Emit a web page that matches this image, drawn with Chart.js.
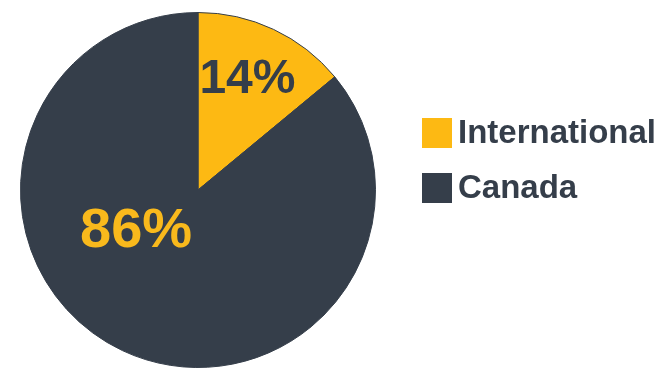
<!DOCTYPE html>
<html>
<head>
<meta charset="utf-8">
<script src="https://cdn.jsdelivr.net/npm/chart.js@4/dist/chart.umd.min.js"></script>
<style>
  html, body { margin: 0; padding: 0; background: #fff; }
  canvas { display: block; }
</style>
</head>
<body>
<canvas id="myChart" width="663" height="368"></canvas>
<script>
const labels = ['International', 'Canada'];
const shares = [14, 86];
const sliceColors = ['#FDB913', '#353E4A'];
const valueColors = ['#353E4A', '#F9B91C'];

// where each % label sits inside its slice: fraction of the sweep, fraction of radius, font size
const labelSpots = [
    { along: 0.48, out: 0.68, size: 48 },
    { along: 0.60, out: 0.42, size: 56 }
];

const font = '"Liberation Sans", Arial, sans-serif';

const pctLabels = {
    id: 'pctLabels',
    afterDatasetsDraw(chart) {
        const c = chart.ctx;
        const meta = chart.getDatasetMeta(0);
        meta.data.forEach((arc, i) => {
            const p = arc.getProps(['x', 'y', 'startAngle', 'endAngle', 'outerRadius'], true);
            const spot = labelSpots[i];
            const a = p.startAngle + (p.endAngle - p.startAngle) * spot.along;
            const r = p.outerRadius * spot.out;
            c.save();
            c.font = 'bold ' + spot.size + 'px ' + font;
            c.fillStyle = valueColors[i];
            c.textAlign = 'center';
            c.textBaseline = 'middle';
            c.fillText(shares[i] + '%', p.x + Math.cos(a) * r, p.y + Math.sin(a) * r);
            c.restore();
        });
    }
};

// legend drawn to the right of the pie
const sideLegend = {
    id: 'sideLegend',
    afterDraw(chart) {
        const c = chart.ctx;
        const left = chart.chartArea.right + 44;
        const top = 118;
        const box = 30;
        const gap = 55;
        chart.data.labels.forEach((lab, i) => {
            const y = top + i * gap;
            c.save();
            c.fillStyle = chart.data.datasets[0].backgroundColor[i];
            c.fillRect(left, y, box, box);
            c.font = 'bold 33px ' + font;
            c.fillStyle = '#353E4A';
            c.textAlign = 'left';
            c.textBaseline = 'alphabetic';
            c.fillText(lab, left + box + 6, y + 25);
            c.restore();
        });
    }
};

new Chart(document.getElementById('myChart').getContext('2d'), {
    type: 'pie',
    data: {
        labels: labels,
        datasets: [{
            data: shares,
            backgroundColor: sliceColors,
            borderColor: '#353E4A',
            borderWidth: 1,
            hoverOffset: 0
        }]
    },
    options: {
        responsive: false,
        animation: false,
        layout: { padding: { left: 18, top: 12, right: 285, bottom: 0 } },
        plugins: {
            legend: { display: false },
            tooltip: { enabled: false }
        }
    },
    plugins: [pctLabels, sideLegend]
});
</script>
</body>
</html>
